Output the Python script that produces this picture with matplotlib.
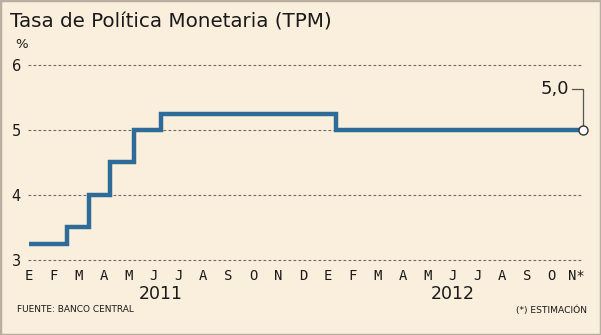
import matplotlib
matplotlib.use("Agg")
import matplotlib.pyplot as plt
import pandas as pd
from matplotlib.patches import Rectangle

# Cambios de la TPM (fecha desde la que rige cada tasa)
fechas = ["2011-01-01", "2011-02-16", "2011-03-14", "2011-04-09",
          "2011-05-08", "2011-06-10", "2012-01-11"]
tasas = [3.25, 3.5, 4.0, 4.5, 5.0, 5.25, 5.0]
fecha_fin = "2012-11-08"
meses = ["E", "F", "M", "A", "M", "J", "J", "A", "S", "O", "N", "D",
         "E", "F", "M", "A", "M", "J", "J", "A", "S", "O", "N*"]
anios = [("2011", 5.3), ("2012", 17.0)]
y_ticks = [3, 4, 5, 6]
valor_final = "5,0"

FONDO = "#FAEEDC"
AZUL = "#2E6B98"
TEXTO = "#1A1A1A"


def pos_mes(fecha):
    # posicion en meses contados desde enero 2011
    d = pd.Timestamp(fecha)
    return (d.year - 2011) * 12 + (d.month - 1) + (d.day - 1) / d.days_in_month


xs = [pos_mes(f) for f in fechas] + [pos_mes(fecha_fin)]
ys = tasas + [tasas[-1]]

W, H = 601, 335
fig = plt.figure(figsize=(W / 100, H / 100), dpi=100)
fig.patch.set_facecolor(FONDO)
fig.patches.append(Rectangle((0, 0), 1, 1, transform=fig.transFigure,
                             fill=False, edgecolor="#B9AEA2", linewidth=2.5))

ax = fig.add_axes([28 / W, 72 / H, 555 / W, 198 / H])
ax.set_facecolor(FONDO)
ax.set_xlim(-0.04, 22.25)
ax.set_ylim(2.95, 6)
for s in ax.spines.values():
    s.set_visible(False)

for y in y_ticks:
    ax.axhline(y, color="#6E6A64", linewidth=0.8, linestyle=(0, (2.5, 2)),
               zorder=1, clip_on=False)

ax.step(xs, ys, where="post", color=AZUL, linewidth=3.2,
        solid_joinstyle="miter", solid_capstyle="butt", zorder=3, clip_on=False)
ax.plot(xs[-1], ys[-1], "o", markersize=6.5, markerfacecolor="white",
        markeredgecolor="#333333", markeredgewidth=1.0, zorder=4, clip_on=False)

ax.set_yticks(y_ticks)
ax.set_yticklabels([str(v) for v in y_ticks], fontsize=10.5, color=TEXTO)
ax.tick_params(axis="y", length=0, pad=5)
ax.set_xticks(range(len(meses)))
ax.set_xticklabels(meses, fontsize=10, color=TEXTO, family="DejaVu Sans Mono")
ax.tick_params(axis="x", length=0, pad=4)

for texto, x in anios:
    ax.text(x, -0.11, texto, transform=ax.get_xaxis_transform(), ha="center",
            va="top", fontsize=12.5, color=TEXTO)

# etiqueta del valor final con su linea guia
ax.plot([xs[-1] - 0.42, xs[-1], xs[-1]], [5.63, 5.63, ys[-1]],
        color="#555555", linewidth=0.9, zorder=2, clip_on=False)
ax.text(xs[-1] - 0.55, 5.63, valor_final, ha="right", va="center",
        fontsize=13, color=TEXTO)

fig.text(10 / W, 1 - 22 / H, "Tasa de Política Monetaria (TPM)", fontsize=14.3,
         color=TEXTO, va="center", ha="left")
fig.text(22 / W, 1 - 45 / H, "%", fontsize=9.5, color=TEXTO, va="center", ha="center")
fig.text(17 / W, 1 - 310 / H, "FUENTE: BANCO CENTRAL", fontsize=6.5, color=TEXTO,
         va="center", ha="left")
fig.text(587 / W, 1 - 310 / H, "(*) ESTIMACIÓN", fontsize=6.6, color=TEXTO,
         va="center", ha="right")

fig.savefig("out.png", dpi=100, facecolor=FONDO)
